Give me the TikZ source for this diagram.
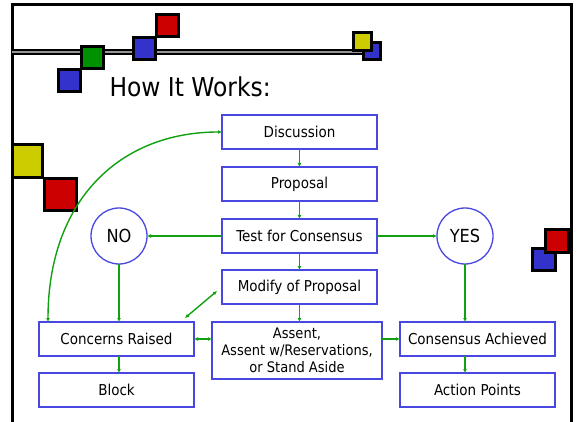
\documentclass[tikz,border=0pt]{standalone}
\usepackage{fontspec}
\setmainfont{DejaVu Sans Condensed}
\usepackage{xcolor}
\usepackage{tikz}
\usetikzlibrary{positioning, arrows.meta}

\definecolor{boxblue}{RGB}{72,72,224}
\definecolor{arrowgreen}{RGB}{16,160,16}
\definecolor{tileblue}{RGB}{51,51,204}
\definecolor{tilered}{RGB}{204,0,0}
\definecolor{tilegreen}{RGB}{0,145,0}
\definecolor{tileyellow}{RGB}{204,204,0}
\definecolor{bargray}{RGB}{150,150,150}

\begin{document}
\begin{tikzpicture}[x=1pt, y=-1pt,
    stepnode/.style={rectangle, draw=boxblue, line width=1.5pt, minimum width=155pt, minimum height=34pt, inner sep=0pt, outer sep=0pt, font=\fontsize{15}{17}\selectfont},
    choicenode/.style={circle, draw=boxblue, line width=1.3pt, minimum size=56pt, inner sep=0pt, outer sep=0pt, font=\fontsize{18}{20}\selectfont},
    flow/.style={draw=arrowgreen, line width=1.4pt, -{Latex[length=4pt,width=4pt]}},
    twoway/.style={flow, {Latex[length=4pt,width=4pt]}-{Latex[length=4pt,width=4pt]}},
    tile/.style={draw=black, line width=3pt}
]
\useasboundingbox (0,0) rectangle (578,422);

\draw[line width=3pt, line join=miter] (12,422) -- (12,5) -- (571,5) -- (571,422);
\draw[line width=6pt] (12,52) -- (364,52);
\draw[bargray, line width=2pt] (12,52) -- (364,52);

\filldraw[tile, fill=tileblue] (58.5,69.5) rectangle +(22,22);
\filldraw[tile, fill=tilegreen] (81.5,46.5) rectangle +(22,22);
\filldraw[tile, fill=tilered] (156.5,14.5) rectangle +(22,22);
\filldraw[tile, fill=tileblue] (133.5,37.5) rectangle +(22,22);
\filldraw[tile, fill=tileblue] (363.5,42.5) rectangle +(17,17);
\filldraw[tile, fill=tileyellow] (353.5,32.5) rectangle +(18,18);
\filldraw[tile, fill=tileyellow] (12.5,144.5) rectangle (42.5,177.5);
\filldraw[tile, fill=tilered] (44.5,178.5) rectangle (76.5,210.5);
\filldraw[tile, fill=tileblue] (532.5,248.5) rectangle (555.5,270.5);
\filldraw[tile, fill=tilered] (545.5,229.5) rectangle (568.5,252.5);

\node[anchor=base west, font=\fontsize{26}{30}\selectfont] (title) at (106,97) {How It Works:};

\node[stepnode] (discussion) at (299.5,132) {Discussion};
\node[stepnode, below=18pt of discussion] (proposal) {Proposal};
\node[stepnode, below=18pt of proposal] (test) {Test for Consensus};
\node[stepnode, below=17pt of test] (modify) {Modify of Proposal};
\node[stepnode, below=18pt of modify, xshift=-2.5pt, minimum width=170pt, minimum height=57pt, align=center, font=\fontsize{14.5}{17}\selectfont] (assent) {Assent,\\Assent w/Reservations,\\or Stand Aside};
\node[stepnode, left=18pt of assent.north west, anchor=north east] (concerns) {Concerns Raised};
\node[stepnode, right=18pt of assent.north east, anchor=north west] (consensus) {Consensus Achieved};
\node[stepnode, below=17pt of concerns] (block) {Block};
\node[stepnode, below=17pt of consensus] (actions) {Action Points};
\node[choicenode, left=75pt of test] (no) {NO};
\node[choicenode, right=60pt of test] (yes) {YES};

\coordinate[above left=4pt and 9pt of concerns.north east] (nearconcerns);
\coordinate[below left=4pt and 5pt of modify.west] (nearmodify);

\draw[flow] (discussion) -- (proposal);
\draw[flow] (proposal) -- (test);
\draw[flow] (test) -- (modify);
\draw[flow] (modify.south) -- (modify.south |- assent.north);
\draw[flow] (test) -- (no);
\draw[flow] (test) -- (yes);
\draw[flow] (no) -- (no |- concerns.north);
\draw[flow] (yes) -- (yes |- consensus.north);
\draw[flow] (concerns.south -| no) -- (block.north -| no);
\draw[flow] (consensus.south -| yes) -- (actions.north -| yes);
\draw[twoway] (concerns) -- (concerns -| assent.west);
\draw[flow] (assent.east |- consensus) -- (consensus);
\draw[twoway] (nearconcerns) -- (nearmodify);
\draw[twoway] ([xshift=9pt]concerns.north west) .. controls +(0,-122) and +(-102,0) .. (discussion.west);
\end{tikzpicture}
\end{document}
